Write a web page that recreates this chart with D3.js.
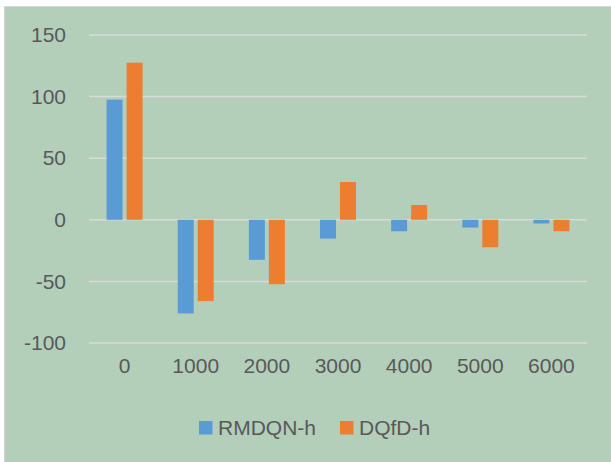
<!DOCTYPE html>
<html>
<head>
<meta charset="utf-8">
<script src="https://cdn.jsdelivr.net/npm/d3@7"></script>
<style>
  html, body { margin: 0; padding: 0; background: #ffffff; }
  svg { display: block; }
  text { font-family: "Liberation Sans", Arial, sans-serif; fill: #595959; }
</style>
</head>
<body>
<svg id="chart" width="611" height="462"></svg>
<script>
// Chart data
const categories = ["0", "1000", "2000", "3000", "4000", "5000", "6000"];
const seriesNames = ["RMDQN-h", "DQfD-h"];
const rmdqnValues = [97.5, -76, -32.5, -15.3, -9.3, -6.3, -3];
const dqfdValues = [127.5, -66, -52.3, 30.7, 12, -22.3, -9.3];
const yTicks = [-100, -50, 0, 50, 100, 150];
const seriesColors = ["#5b9bd5", "#ed7d31"];

const svg = d3.select("#chart");
const W = 611, H = 462;

// chart area background
svg.append("rect")
  .attr("x", 4.5).attr("y", 6.5)
  .attr("width", W + 10).attr("height", H + 10)
  .attr("fill", "#b3cfba")
  .attr("stroke", "#d6d6d6").attr("stroke-width", 1);

const plot = { left: 89, right: 587, top: 35, bottom: 343 };

const x = d3.scaleBand()
  .domain(categories)
  .range([plot.left, plot.right])
  .paddingInner(0).paddingOuter(0);

const y = d3.scaleLinear()
  .domain([-100, 150])
  .range([plot.bottom, plot.top]);

// gridlines
svg.append("g")
  .selectAll("line")
  .data(yTicks)
  .join("line")
  .attr("x1", plot.left).attr("x2", plot.right)
  .attr("y1", d => y(d)).attr("y2", d => y(d))
  .attr("stroke", "#dadada").attr("stroke-width", 1.5);

// y-axis labels (plain hyphen for negatives)
const yAxis = d3.axisLeft(y).tickValues(yTicks).tickSize(0).tickPadding(0)
  .tickFormat(d => String(d));
const yG = svg.append("g")
  .attr("transform", `translate(${66},0)`)
  .call(yAxis);
yG.select(".domain").remove();
yG.selectAll("text")
  .attr("font-size", 21)
  .attr("font-family", "Liberation Sans, Arial, sans-serif")
  .attr("fill", "#595959");

// x-axis labels
const xAxis = d3.axisBottom(x).tickSize(0).tickPadding(0);
const xG = svg.append("g")
  .attr("transform", `translate(0,${358})`)
  .call(xAxis);
xG.select(".domain").remove();
xG.selectAll("text")
  .attr("font-size", 21)
  .attr("font-family", "Liberation Sans, Arial, sans-serif")
  .attr("fill", "#595959");

// bars
const barW = 16, barGap = 4;

const rows = categories.map((c, i) => ({
  cat: c,
  vals: [rmdqnValues[i], dqfdValues[i]]
}));

const groups = svg.append("g")
  .selectAll("g")
  .data(rows)
  .join("g")
  .attr("transform", d => `translate(${x(d.cat) + x.bandwidth() / 2 - (barW * 2 + barGap) / 2},0)`);

groups.selectAll("rect")
  .data(d => d.vals.map((v, k) => ({ name: seriesNames[k], v, k })))
  .join("rect")
  .attr("x", d => d.k * (barW + barGap))
  .attr("width", barW)
  .attr("y", d => Math.min(y(d.v), y(0)))
  .attr("height", d => Math.abs(y(d.v) - y(0)))
  .attr("fill", d => seriesColors[d.k]);

// legend
const legendItems = [
  { name: seriesNames[0], color: seriesColors[0], x: 199 },
  { name: seriesNames[1], color: seriesColors[1], x: 340 }
];
const lg = svg.append("g");
legendItems.forEach(it => {
  lg.append("rect")
    .attr("x", it.x).attr("y", 421)
    .attr("width", 13.5).attr("height", 13.5)
    .attr("fill", it.color);
  lg.append("text")
    .attr("x", it.x + 19).attr("y", 428)
    .attr("dy", "0.35em")
    .attr("font-size", 21)
    .text(it.name);
});
</script>
</body>
</html>
